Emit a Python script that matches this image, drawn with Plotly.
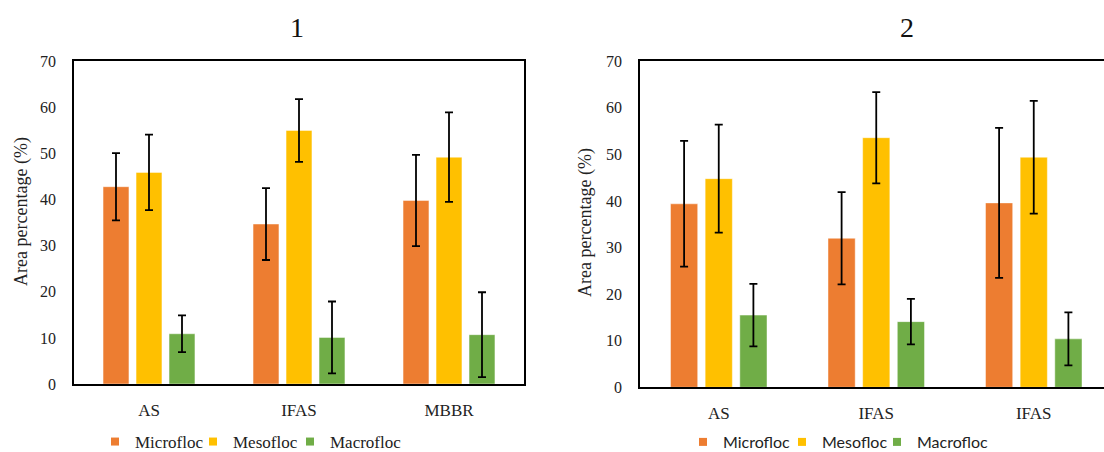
import plotly.graph_objects as go

# Floc size classes and their colours
classes = ["Microfloc", "Mesofloc", "Macrofloc"]
colors = ["#ED7D31", "#FFC000", "#70AD47"]

# Panel 1
cats_1 = ["AS", "IFAS", "MBBR"]
mean_1 = {
    "Microfloc": [42.8, 34.7, 39.8],
    "Mesofloc": [45.9, 55.0, 49.2],
    "Macrofloc": [10.9, 10.1, 10.7],
}
sd_1 = {
    "Microfloc": [7.3, 7.8, 9.9],
    "Mesofloc": [8.2, 6.8, 9.7],
    "Macrofloc": [4.0, 7.8, 9.2],
}

# Panel 2
cats_2 = ["AS", "IFAS", "IFAS"]
mean_2 = {
    "Microfloc": [39.4, 32.0, 39.6],
    "Mesofloc": [44.8, 53.6, 49.4],
    "Macrofloc": [15.5, 14.1, 10.4],
}
sd_2 = {
    "Microfloc": [13.5, 9.9, 16.1],
    "Mesofloc": [11.6, 9.8, 12.1],
    "Macrofloc": [6.7, 4.9, 5.7],
}

y_ticks = [0, 10, 20, 30, 40, 50, 60, 70]

W, H = 1104, 452
SERIF = "Liberation Serif"
SANS = "Lato"


def px_x(v):
    return v / W


def px_y(v):
    return (H - v) / H


fig = go.Figure()

# one single-entry legend per key, so each key sits at its own spot
legend_spots = [
    [("legend", 95, 442), ("legend2", 193, 442), ("legend3", 290, 442)],
    [("legend4", 683, 442), ("legend5", 782, 442), ("legend6", 877, 442)],
]
legend_fonts = [dict(family=SERIF, size=17, color="#222"),
                dict(family=SANS, size=16, color="#222")]

panels = [
    (cats_1, mean_1, sd_1, "x", "y"),
    (cats_2, mean_2, sd_2, "x2", "y2"),
]

layout_legends = {}
for (cats, means, sds, xa, ya), spots, lfont in zip(panels, legend_spots, legend_fonts):
    pos = list(range(len(cats)))
    for name, col in zip(classes, colors):
        fig.add_trace(go.Bar(
            x=pos, y=means[name], name=name,
            marker=dict(color=col, line=dict(color="rgba(255,255,255,0.45)", width=1)),
            error_y=dict(type="data", array=sds[name], visible=True,
                         color="black", thickness=1.8, width=4),
            xaxis=xa, yaxis=ya, showlegend=False,
        ))
    for (leg, lx, ly), name, col in zip(spots, classes, colors):
        fig.add_trace(go.Scatter(
            x=[None], y=[None], mode="markers", name=name,
            marker=dict(symbol="square", size=8, color=col),
            xaxis=xa, yaxis=ya, legend=leg, showlegend=True,
        ))
        layout_legends[leg] = dict(orientation="h", x=px_x(lx), y=px_y(ly),
                                   xanchor="left", yanchor="middle", font=lfont,
                                   itemwidth=30, bgcolor="rgba(0,0,0,0)")

axis_common = dict(showgrid=False, zeroline=False, linecolor="black", linewidth=1.5,
                   ticks="", showline=True, automargin=False)

fig.update_layout(
    width=W, height=H,
    margin=dict(l=0, r=0, t=0, b=0, autoexpand=False),
    paper_bgcolor="white", plot_bgcolor="white",
    barmode="group", bargap=0.34, bargroupgap=0.215,
    xaxis=dict(domain=[px_x(74), px_x(524)], range=[-0.5, 2.5],
               tickvals=[0, 1, 2], ticktext=cats_1, mirror=True,
               tickfont=dict(family=SERIF, size=17, color="#222"),
               ticklabelstandoff=10, **axis_common),
    yaxis=dict(domain=[px_y(384), px_y(61.3)], range=[0, 70], tickvals=y_ticks,
               mirror=True, tickfont=dict(family=SERIF, size=16, color="#222"),
               ticklabelstandoff=13, anchor="x", **axis_common),
    xaxis2=dict(domain=[px_x(640), 1.0], range=[-0.5, -0.5 + 464 / 157.5],
                tickvals=[0, 1, 2], ticktext=cats_2, mirror=True, anchor="y2",
                tickfont=dict(family=SERIF, size=17, color="#222"),
                ticklabelstandoff=10, **axis_common),
    yaxis2=dict(domain=[px_y(387.3), px_y(61.3)], range=[0, 70], tickvals=y_ticks,
                mirror=False, anchor="x2",
                tickfont=dict(family=SERIF, size=16, color="#222"),
                ticklabelstandoff=13, **axis_common),
    **layout_legends,
)

for txt, xc in [("1", 297), ("2", 907)]:
    fig.add_annotation(xref="paper", yref="paper", x=px_x(xc), y=px_y(28), text=txt,
                       showarrow=False, xanchor="center", yanchor="middle",
                       font=dict(family=SERIF, size=28, color="#111"))

for xc, yc in [(22, 212), (585, 223)]:
    fig.add_annotation(xref="paper", yref="paper", x=px_x(xc), y=px_y(yc),
                       text="Area percentage (%)", textangle=-90, showarrow=False,
                       xanchor="center", yanchor="middle",
                       font=dict(family=SERIF, size=18, color="#222"))

fig.write_html("out.html")
